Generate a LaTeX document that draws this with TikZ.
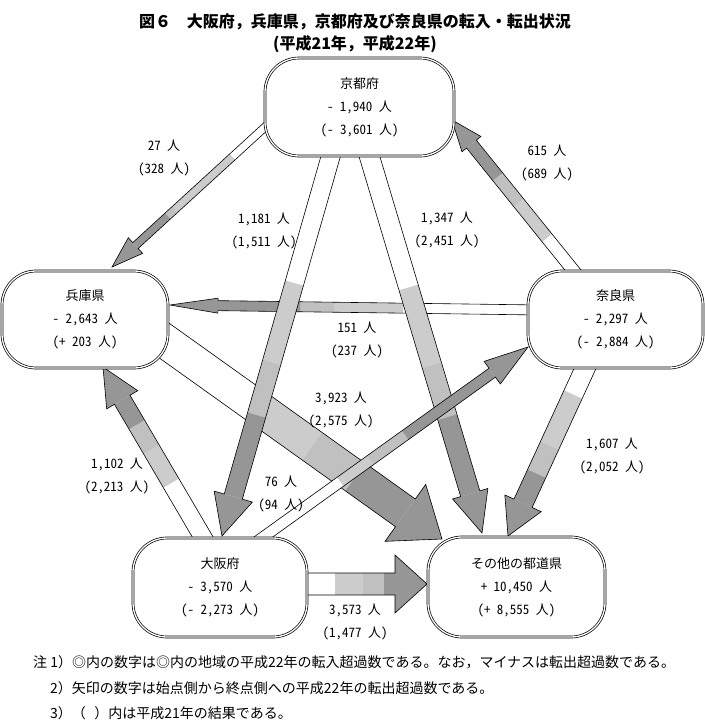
\documentclass[tikz,border=0pt]{standalone}
\usepackage{fontspec}
\setmainfont{Noto Sans CJK JP}
\newfontfamily\hwfont{Noto Sans CJK JP}[RawFeature=+hwid]
\usetikzlibrary{calc}
\definecolor{lightg}{HTML}{CCCCCC}
\definecolor{midg}{HTML}{C0C0C0}
\definecolor{darkg}{HTML}{969696}
\pgfdeclarelayer{bg}
\pgfsetlayers{bg,main}
% one shaft segment: S, T, B, half width, f1, f2, colour
\newcommand\shseg[7]{%
  \path ($(#1)!#5!(#3)$) coordinate (q1) ($(#1)!#6!(#3)$) coordinate (q2);
  \fill[#7] ($(q1)!#4!90:(#2)$) -- ($(q2)!#4!90:(#2)$) -- ($(q2)!#4!-90:(#2)$) -- ($(q1)!#4!-90:(#2)$) -- cycle;
}
% block arrow: S, T, head length, shaft half width, head half width, f1, f2, f3
\newcommand\blockarrow[8]{%
  \path ($(#2)!#3!(#1)$) coordinate (bb);
  \shseg{#1}{#2}{bb}{#4}{0}{#6}{white}
  \shseg{#1}{#2}{bb}{#4}{#6}{#7}{lightg}
  \shseg{#1}{#2}{bb}{#4}{#7}{#8}{midg}
  \shseg{#1}{#2}{bb}{#4}{#8}{1}{darkg}
  \fill[darkg] ($(bb)!#5!90:(#2)$) -- (#2) -- ($(bb)!#5!-90:(#2)$) -- cycle;
  \draw[arrline] ($(#1)!#4!90:(#2)$) -- ($(bb)!#4!90:(#2)$) -- ($(bb)!#5!90:(#2)$) -- (#2) -- ($(bb)!#5!-90:(#2)$) -- ($(bb)!#4!-90:(#2)$) -- ($(#1)!#4!-90:(#2)$) -- cycle;
}
\begin{document}
\begin{tikzpicture}[x=1pt,y=-1pt,
  box/.style={draw=black, line width=0.7pt, double=white, double distance=1.3pt, fill=white,
    rounded corners=34pt, align=center, inner sep=0pt, font=\hwfont\fontsize{13}{23}\selectfont},
  lbl/.style={align=center, inner sep=0pt, font=\hwfont\fontsize{13}{23}\selectfont},
  note/.style={anchor=west, inner sep=0pt, font=\fontsize{14}{16}\selectfont},
  arrline/.style={draw=black, line width=0.6pt, line join=miter}]
\useasboundingbox (0,0) rectangle (705,724);

% title
\node[align=center, inner sep=0pt, font=\fontsize{16}{22}\selectfont\bfseries] (title) at (355,33)
  {図６　大阪府，兵庫県，京都府及び奈良県の転入・転出状況\\(平成21年，平成22年)};

% boxes
\node[box, minimum width=189pt, minimum height=98pt] (kyoto) at (359.5,107) {京都府\\- 1,940 人\\(- 3,601 人)};
\node[box, minimum width=166pt, minimum height=97pt] (hyogo) at (85,319.5) {兵庫県\\- 2,643 人\\(+ 203 人)};
\node[box, minimum width=175pt, minimum height=97pt] (nara) at (615.5,319.5) {奈良県\\- 2,297 人\\(- 2,884 人)};
\node[box, minimum width=174pt, minimum height=99pt] (osaka) at (220,587.5) {大阪府\\- 3,570 人\\(- 2,273 人)};
\node[box, minimum width=177pt, minimum height=100pt] (other) at (516.5,587) {その他の都道県\\+ 10,450 人\\(+ 8,555 人)};

% arrow end points
\coordinate (hyogoOut1) at (148,329);   \coordinate (otherIn1) at (442,539);
\coordinate (naraOut1) at (540,310);    \coordinate (hyogoIn1) at (170,305);
\coordinate (kyotoOut1) at (332.5,150); \coordinate (osakaIn1) at (222,536);
\coordinate (kyotoOut2) at (367.5,150); \coordinate (otherIn2) at (482,533);
\coordinate (osakaOut1) at (255,543);   \coordinate (naraIn1) at (528,347);
\coordinate (kyotoOut3) at (276,117);   \coordinate (hyogoIn2) at (112,267);
\coordinate (naraOut2) at (581,280);    \coordinate (kyotoIn1) at (452,120);
\coordinate (osakaOut2) at (208,546);   \coordinate (hyogoIn3) at (103,367);
\coordinate (naraOut3) at (588,362);    \coordinate (otherIn3) at (508,536);
\coordinate (osakaOut3) at (300,584);   \coordinate (otherIn4) at (427,584);

\begin{pgfonlayer}{bg}
\blockarrow{hyogoOut1}{otherIn1}{45pt}{17pt}{35pt}{0.416}{0.638}{0.805}
\blockarrow{naraOut1}{hyogoIn1}{48pt}{5pt}{7.5pt}{0.425}{0.64}{0.745}
\blockarrow{kyotoOut1}{osakaIn1}{41pt}{9.4pt}{19.9pt}{0.384}{0.612}{0.765}
\blockarrow{kyotoOut2}{otherIn2}{41pt}{10pt}{18.4pt}{0.40}{0.626}{0.777}
\blockarrow{osakaOut1}{naraIn1}{44pt}{5.5pt}{13.9pt}{0.36}{0.485}{0.633}
\blockarrow{kyotoOut3}{hyogoIn2}{31.8pt}{4pt}{10.6pt}{0.31}{0.72}{0.77}
\blockarrow{naraOut2}{kyotoIn1}{31pt}{6.3pt}{12.2pt}{0.31}{0.57}{0.76}
\blockarrow{osakaOut2}{hyogoIn3}{38pt}{9pt}{18pt}{0.43}{0.66}{0.83}
\blockarrow{naraOut3}{otherIn3}{36pt}{10pt}{20pt}{0.23}{0.59}{0.79}
\blockarrow{osakaOut3}{otherIn4}{32pt}{11pt}{29pt}{0.37}{0.66}{0.884}
\end{pgfonlayer}

% arrow labels
\node[lbl] (l1) at (164,158) {27 人\\(328 人)};
\node[lbl] (l2) at (264,231) {1,181 人\\(1,511 人)};
\node[lbl] (l3) at (447,230) {1,347 人\\(2,451 人)};
\node[lbl] (l4) at (547,163) {615 人\\(689 人)};
\node[lbl] (l5) at (357,340) {151 人\\(237 人)};
\node[lbl] (l6) at (341,410) {3,923 人\\(2,575 人)};
\node[lbl] (l7) at (281,494) {76 人\\(94 人)};
\node[lbl] (l8) at (117,476) {1,102 人\\(2,213 人)};
\node[lbl] (l9) at (612,456) {1,607 人\\(2,052 人)};
\node[lbl] (l10) at (355,622) {3,573 人\\(1,477 人)};

% notes
\node[note] (n1) at (33,662) {注 1）◎内の数字は◎内の地域の平成22年の転入超過数である。なお，マイナスは転出超過数である。};
\node[note] (n2) at (50,688) {2）矢印の数字は始点側から終点側への平成22年の転出超過数である。};
\node[note] (n3) at (50,713) {3）（\hspace{0.6em}）内は平成21年の結果である。};
\end{tikzpicture}
\end{document}
